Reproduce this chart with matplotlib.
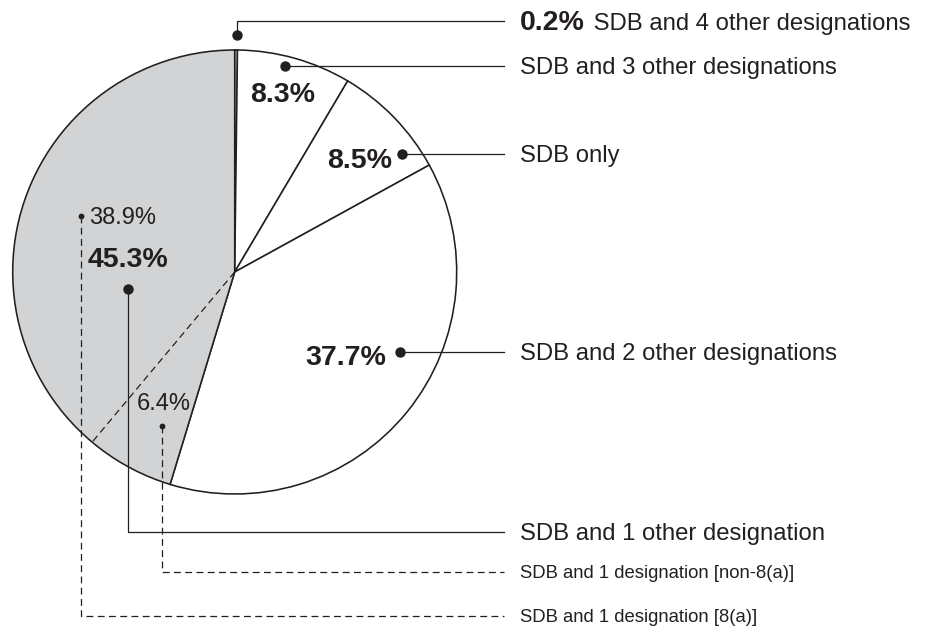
import matplotlib
matplotlib.use('Agg')
import matplotlib.pyplot as plt
import numpy as np

# share of firms by number of designations held (percent)
categories = [
    'SDB and 4 other designations',
    'SDB and 3 other designations',
    'SDB only',
    'SDB and 2 other designations',
    'SDB and 1 other designation',
]
shares = [0.2, 8.3, 8.5, 37.7, 45.3]

# split of the "SDB and 1 other designation" slice
sub_categories = [
    'SDB and 1 designation [non-8(a)]',
    'SDB and 1 designation [8(a)]',
]
sub_shares = [6.4, 38.9]

INK = '#231f20'
GRAY = '#d1d3d4'
plt.rcParams['font.family'] = ['Liberation Sans', 'DejaVu Sans']

# layout (pixels, y down): pie centre/radius, leader dots and label anchors
cx, cy, radius = 234.7, 272, 222
line_end, text_x = 504, 520
dots = [(237, 35, 21), (285, 66, 66), (402, 154, 154), (400, 352, 352), (128, 289, 532)]
sub_dots = [(162, 426, 572), (80.7, 215.7, 616)]
pct_pos = [None, (283, 102, 'center'), (360, 168, 'center'), (345.5, 365, 'center'), (128, 267, 'center')]
sub_pct_pos = [(164, 410, 'center'), (89, 224, 'left')]

fig = plt.figure(figsize=(9.3, 6.28), dpi=100)
ax = fig.add_axes([0, 0, 1, 1])

# y axis is flipped so data units are image pixels; with the flip,
# startangle=-90 + counterclock reads as "from 12 o'clock, clockwise"
colors = ['white'] * (len(shares) - 1) + [GRAY]
ax.pie(shares, startangle=-90, counterclock=True, center=(cx, cy),
       radius=radius, colors=colors,
       wedgeprops=dict(edgecolor=INK, linewidth=1.15))

# dashed divider inside the grey slice
cum = sum(shares[:-1]) + sub_shares[0]
ang = np.deg2rad(-90 + 3.6 * cum)
ax.plot([cx, cx + radius * np.cos(ang)], [cy, cy + radius * np.sin(ang)],
        color=INK, lw=0.9, dashes=(5.5, 3.5))

ax.set_xlim(0, 930)
ax.set_ylim(628, 0)
ax.axis('off')


def leader(x, y, ly, dashed=False, big=True):
    kw = dict(color=INK, lw=0.9)
    if dashed:
        kw['dashes'] = (5.5, 3.5)
    ax.plot([x, x, line_end], [y, ly, ly], **kw)
    ax.plot(x, y, 'o', color=INK, ms=7.5 if big else 4.2, mec='none', zorder=5)


for i, (cat, val) in enumerate(zip(categories, shares)):
    x, y, ly = dots[i]
    leader(x, y, ly)
    if i == 0:
        # tiny slice: percentage sits in front of its label
        t = ax.text(text_x, ly + 9, f'{val}%', fontsize=20.5, fontweight='bold',
                    color=INK, va='baseline', ha='left')
        fig.canvas.draw()
        bb = t.get_window_extent()
        ax.text(text_x + bb.width + 2, ly + 9, ' ' + cat, fontsize=17.2, color=INK,
                va='baseline', ha='left')
    else:
        ax.text(text_x, ly + 8, cat, fontsize=17.2, color=INK, va='baseline', ha='left')
        px, py, ha = pct_pos[i]
        ax.text(px, py, f'{val}%', fontsize=20.5, fontweight='bold', color=INK,
                va='baseline', ha=ha)

for i, (cat, val) in enumerate(zip(sub_categories, sub_shares)):
    x, y, ly = sub_dots[i]
    leader(x, y, ly, dashed=True, big=False)
    ax.text(text_x, ly + 6, cat, fontsize=13.3, color=INK, va='baseline', ha='left')
    px, py, ha = sub_pct_pos[i]
    ax.text(px, py, f'{val}%', fontsize=17, color=INK, va='baseline', ha=ha)

fig.savefig('out.png', dpi=100)
